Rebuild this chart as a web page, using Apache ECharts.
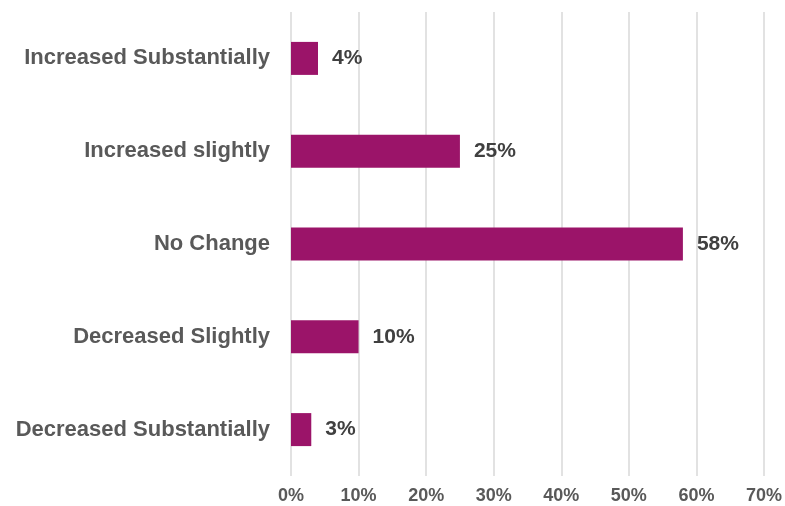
<!DOCTYPE html>
<html>
<head>
<meta charset="utf-8">
<script src="https://cdn.jsdelivr.net/npm/echarts@6/dist/echarts.min.js"></script>
<style>
  html, body { margin: 0; padding: 0; background: #ffffff; }
  #chart { width: 785px; height: 506px; }
</style>
</head>
<body>
<div id="chart"></div>
<script>
// Survey responses, listed top to bottom
const categories = [
  'Increased Substantially',
  'Increased slightly',
  'No Change',
  'Decreased Slightly',
  'Decreased Substantially'
];
// Share of responses, percent
const values = [4, 25, 58, 10, 3];
// Horizontal axis ticks, percent
const xTicks = [0, 10, 20, 30, 40, 50, 60, 70];

const chart = echarts.init(document.getElementById('chart'), null, { renderer: 'canvas' });

const fontFamily = '"Liberation Sans", Arial, sans-serif';

chart.setOption({
  animation: false,
  backgroundColor: '#ffffff',
  grid: { left: 291, right: 21, top: 12, bottom: 30, containLabel: false },
  xAxis: {
    type: 'value',
    min: xTicks[0],
    max: xTicks[xTicks.length - 1],
    interval: xTicks[1] - xTicks[0],
    axisLine: { show: false },
    axisTick: { show: false },
    splitLine: { show: true, lineStyle: { color: '#d9d9d9', width: 1.5 } },
    axisLabel: {
      formatter: v => v + '%',
      color: '#595959',
      fontFamily: fontFamily,
      fontWeight: 'bold',
      fontSize: 18,
      margin: 11
    }
  },
  yAxis: {
    type: 'category',
    data: categories,
    inverse: true,
    axisLine: { show: false },
    axisTick: { show: false },
    splitLine: { show: false },
    axisLabel: {
      color: '#595959',
      fontFamily: fontFamily,
      fontWeight: 'bold',
      fontSize: 22,
      margin: 21
    }
  },
  series: [{
    type: 'bar',
    data: values,
    barWidth: 33,
    itemStyle: { color: '#9b1469' },
    label: {
      show: true,
      position: 'right',
      distance: 14,
      formatter: p => p.value + '%',
      color: '#404040',
      fontFamily: fontFamily,
      fontWeight: 'bold',
      fontSize: 21
    }
  }]
});
</script>
</body>
</html>
